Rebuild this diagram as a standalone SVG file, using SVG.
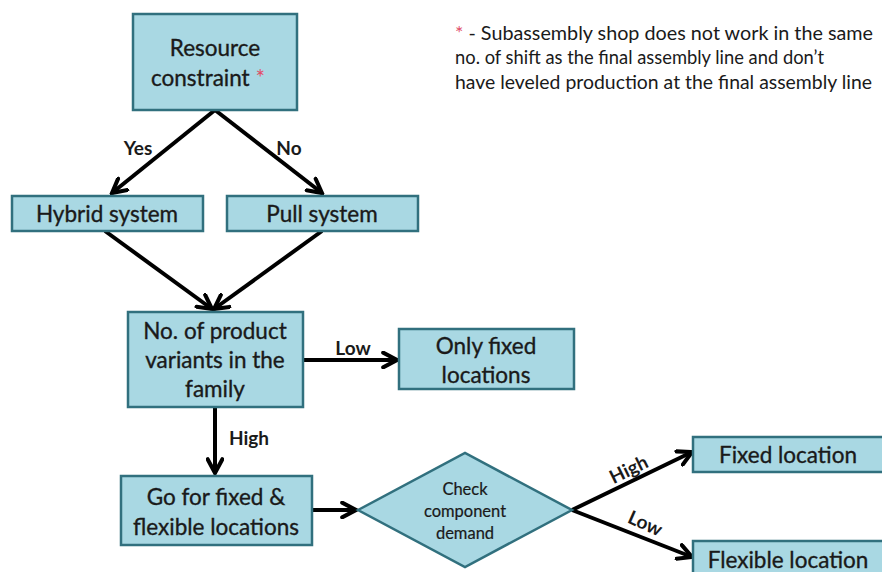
<svg xmlns="http://www.w3.org/2000/svg" width="882" height="572" viewBox="0 0 882 572">
  <style>
    .box { fill: #A9D8E3; stroke: #31707E; stroke-width: 2.5; }
    .t { font-family: Lato, "Open Sans", sans-serif; font-size: 22.5px; fill: #1a1a1a; stroke: #1a1a1a; stroke-width: 0.35; text-anchor: middle; }
    .ts { font-family: Lato, "Open Sans", sans-serif; font-size: 16.5px; fill: #1a1a1a; stroke: #1a1a1a; stroke-width: 0.2; text-anchor: middle; }
    .lbl { font-family: Lato, "Open Sans", sans-serif; font-size: 19px; font-weight: bold; fill: #1a1a1a; text-anchor: middle; }
    .note { font-family: Lato, "Open Sans", sans-serif; font-size: 18.5px; fill: #1a1a1a; }
    .star { fill: #E0506A; stroke: none; }
    .edge { stroke: #000; stroke-width: 4; fill: none; marker-end: url(#arr); }
  </style>
  <defs>
    <marker id="arr" viewBox="0 0 10 10" refX="8.5" refY="5" markerWidth="4.6" markerHeight="4.6" orient="auto" markerUnits="strokeWidth">
      <path d="M1,1 L8.5,5 L1,9" fill="none" stroke="#000" stroke-width="2.2" stroke-linecap="round" stroke-linejoin="miter"/>
    </marker>
  </defs>
  <rect width="882" height="572" fill="#fff"/>

  <g id="note">
    <text class="note" x="455" y="40" textLength="418" lengthAdjust="spacingAndGlyphs"><tspan class="star">*</tspan> - Subassembly shop does not work in the same</text>
    <text class="note" x="455" y="64" textLength="369" lengthAdjust="spacingAndGlyphs">no. of shift as the final assembly line and don’t</text>
    <text class="note" x="455" y="89" textLength="417" lengthAdjust="spacingAndGlyphs">have leveled production at the final assembly line</text>
  </g>

  <g id="connectors">
    <path class="edge" d="M215,110 L112,193"/>
    <path class="edge" d="M215,110 L322,193"/>
    <path class="edge" d="M105,231 L212,309"/>
    <path class="edge" d="M322,231 L214,309"/>
    <path class="edge" d="M303,360 L397,360"/>
    <path class="edge" d="M215,407 L215,473"/>
    <path class="edge" d="M312,510 L356,510"/>
    <path class="edge" d="M572,510 L692,452"/>
    <path class="edge" d="M572,510 L692,557"/>
    <text class="lbl" x="138" y="155">Yes</text>
    <text class="lbl" x="289" y="155">No</text>
    <text class="lbl" x="353" y="355">Low</text>
    <text class="lbl" x="249" y="445">High</text>
    <text class="lbl" x="629" y="476" transform="rotate(-26 629 470)">High</text>
    <text class="lbl" x="645" y="530" transform="rotate(24 645 524)">Low</text>
  </g>

  <g id="resource">
    <rect class="box" x="133" y="14" width="164" height="96"/>
    <text class="t" x="215" y="56">Resource</text>
    <text class="t" x="208" y="86">constraint <tspan class="star">*</tspan></text>
  </g>

  <g id="hybrid">
    <rect class="box" x="12" y="196" width="191" height="35"/>
    <text class="t" x="107" y="222">Hybrid system</text>
  </g>

  <g id="pull">
    <rect class="box" x="227" y="196" width="191" height="35"/>
    <text class="t" x="322" y="222">Pull system</text>
  </g>

  <g id="variants">
    <rect class="box" x="128" y="312" width="175" height="95"/>
    <text class="t" x="215" y="339">No. of product</text>
    <text class="t" x="215" y="368">variants in the</text>
    <text class="t" x="215" y="397">family</text>
  </g>

  <g id="only-fixed">
    <rect class="box" x="399" y="329" width="175" height="60"/>
    <text class="t" x="486" y="354">Only fixed</text>
    <text class="t" x="486" y="383">locations</text>
  </g>

  <g id="fixed-flexible">
    <rect class="box" x="121" y="476" width="191" height="69"/>
    <text class="t" x="216" y="505">Go for fixed &amp;</text>
    <text class="t" x="216" y="535">flexible locations</text>
  </g>

  <g id="check-demand">
    <polygon class="box" points="358,510 465,453 572,510 465,567"/>
    <text class="ts" x="465" y="495">Check</text>
    <text class="ts" x="465" y="517">component</text>
    <text class="ts" x="465" y="539">demand</text>
  </g>

  <g id="fixed-location">
    <rect class="box" x="693" y="437" width="200" height="35"/>
    <text class="t" x="788" y="463">Fixed location</text>
  </g>

  <g id="flexible-location">
    <rect class="box" x="693" y="541" width="200" height="40"/>
    <text class="t" x="788" y="568">Flexible location</text>
  </g>
</svg>
